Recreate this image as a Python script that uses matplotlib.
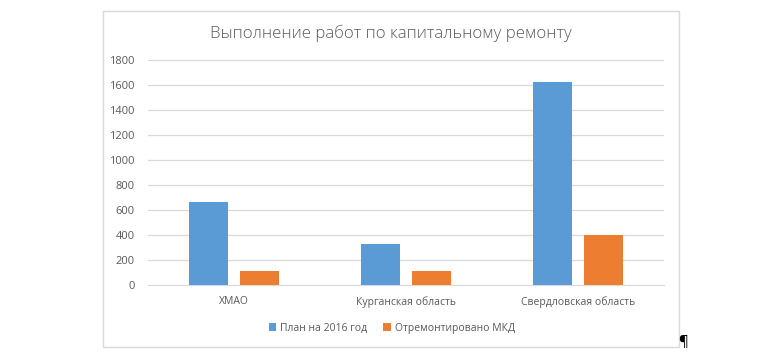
import matplotlib
matplotlib.use("Agg")
import matplotlib.pyplot as plt
from matplotlib.patches import Rectangle
import numpy as np

plt.rcParams['font.family'] = ['Open Sans', 'DejaVu Sans']

categories = ["ХМАО", "Курганская область", "Свердловская область"]
plan_2016 = [665, 330, 1625]
repaired = [115, 112, 400]
series_names = ["План на 2016 год", "Отремонтировано МКД"]
yticks = [0, 200, 400, 600, 800, 1000, 1200, 1400, 1600, 1800]

text_col = "#595959"
grid_col = "#D9D9D9"

fig = plt.figure(figsize=(7.8, 3.54), dpi=100)
fig.patch.set_facecolor("white")

# рамка области диаграммы
fig.patches.append(Rectangle((103 / 780, 1 - 347 / 354), 576 / 780, 336 / 354,
                             transform=fig.transFigure, fill=False,
                             edgecolor=grid_col, linewidth=1))

ax = fig.add_axes([148 / 780, 1 - 285 / 354, 516 / 780, 225 / 354])
x = np.arange(len(categories))
w = 0.227
gap = 0.064
b1 = ax.bar(x - (w + gap) / 2, plan_2016, w, color="#5B9BD5", label=series_names[0], zorder=3)
b2 = ax.bar(x + (w + gap) / 2, repaired, w, color="#ED7D31", label=series_names[1], zorder=3)

ax.set_xlim(-0.5, len(categories) - 0.5)
ax.set_ylim(0, 1800)
ax.set_yticks(yticks)
ax.set_xticks(x)
ax.set_xticklabels(categories)
ax.tick_params(axis="both", length=0, labelsize=7.5, colors=text_col)
ax.tick_params(axis="y", labelsize=8, pad=9.4)
ax.tick_params(axis="x", pad=8)
ax.grid(axis="y", color=grid_col, linewidth=0.9, zorder=0)
for s in ["top", "right", "left"]:
    ax.spines[s].set_visible(False)
ax.spines["bottom"].set_color(grid_col)

fig.text(390.5 / 780, 1 - 33 / 354, "Выполнение работ по капитальному ремонту",
         ha="center", va="center", fontsize=12.1, color=text_col, fontweight="light")

fig.legend(handles=[b1, b2], loc="center", bbox_to_anchor=(392 / 780, 1 - 328 / 354),
           ncol=2, frameon=False, fontsize=7.5, labelcolor=text_col,
           handlelength=0.7, handleheight=0.7, handletextpad=0.4, columnspacing=1.5)

fig.text(683 / 780, 1 - 343 / 354, "¶", ha="center", va="center", fontsize=11, color="black")

fig.savefig("out.png", dpi=100)
